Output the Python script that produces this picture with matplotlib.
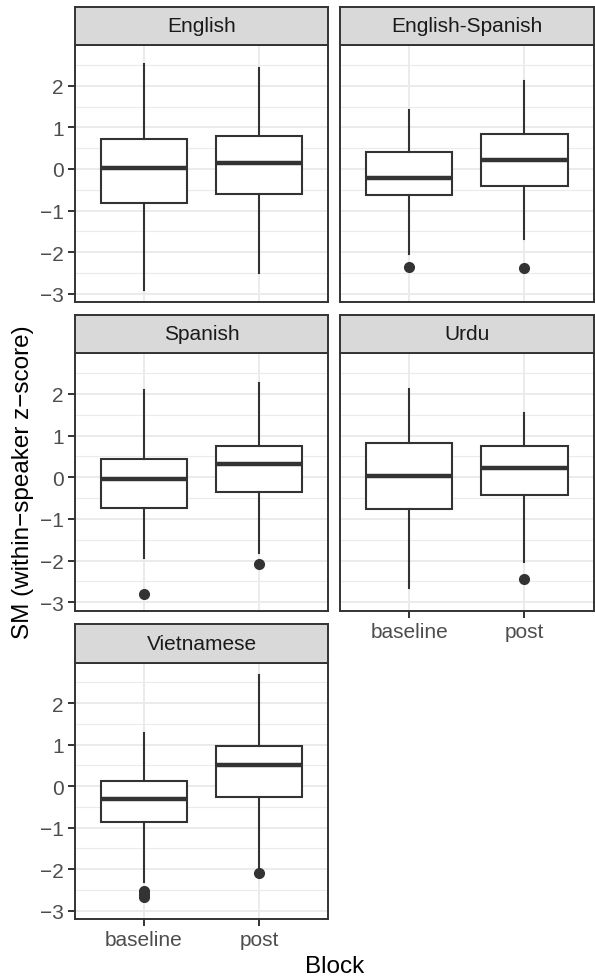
import matplotlib
matplotlib.use("Agg")
import matplotlib.pyplot as plt

plt.rcParams['font.family'] = ['Liberation Sans', 'DejaVu Sans']

blocks = ["baseline", "post"]
languages = ["English", "English-Spanish", "Spanish", "Urdu", "Vietnamese"]

# box stats per language: [baseline, post]
whislo = {"English": [-2.92, -2.50], "English-Spanish": [-2.04, -1.69], "Spanish": [-1.93, -1.81],
          "Urdu": [-2.65, -2.04], "Vietnamese": [-2.32, -1.98]}
q1 = {"English": [-0.83, -0.61], "English-Spanish": [-0.63, -0.41], "Spanish": [-0.73, -0.36],
      "Urdu": [-0.77, -0.43], "Vietnamese": [-0.87, -0.26]}
med = {"English": [0.03, 0.14], "English-Spanish": [-0.21, 0.21], "Spanish": [-0.04, 0.31],
       "Urdu": [0.04, 0.22], "Vietnamese": [-0.30, 0.51]}
q3 = {"English": [0.72, 0.78], "English-Spanish": [0.40, 0.83], "Spanish": [0.43, 0.75],
      "Urdu": [0.82, 0.76], "Vietnamese": [0.13, 0.97]}
whishi = {"English": [2.52, 2.42], "English-Spanish": [1.41, 2.12], "Spanish": [2.09, 2.25],
          "Urdu": [2.11, 1.53], "Vietnamese": [1.27, 2.67]}
fliers = {"English": [[], []], "English-Spanish": [[-2.36], [-2.38]], "Spanish": [[-2.80], [-2.08]],
          "Urdu": [[], [-2.44]], "Vietnamese": [[-2.53, -2.59, -2.66], [-2.09]]}

W, H = 595, 979
fig = plt.figure(figsize=(W / 100, H / 100), dpi=100)

cols = [(75, 328), (340, 593.5)]
rows = [(46, 303), (354, 611.5), (663.5, 920)]
strip_h = 38.5
dark = "#333333"

for i, lang in enumerate(languages):
    r, c = divmod(i, 2)
    x0, x1 = cols[c]
    y0, y1 = rows[r]
    ax = fig.add_axes([x0 / W, 1 - y1 / H, (x1 - x0) / W, (y1 - y0) / H])

    stats = []
    for k in range(2):
        stats.append(dict(whislo=whislo[lang][k], q1=q1[lang][k], med=med[lang][k],
                          q3=q3[lang][k], whishi=whishi[lang][k], fliers=fliers[lang][k]))
    ax.bxp(stats, positions=[1, 2], widths=0.75, showcaps=False, patch_artist=True,
           boxprops=dict(facecolor="white", edgecolor=dark, linewidth=1.5),
           medianprops=dict(color=dark, linewidth=3.2, solid_capstyle="butt"),
           whiskerprops=dict(color=dark, linewidth=1.5),
           flierprops=dict(marker="o", markerfacecolor=dark, markeredgecolor=dark, markersize=7),
           zorder=3)

    ax.set_xlim(0.4, 2.6)
    ax.set_ylim(-3.2, 2.98)
    ax.set_yticks([-3, -2, -1, 0, 1, 2])
    ax.set_yticks([-2.5, -1.5, -0.5, 0.5, 1.5, 2.5], minor=True)
    ax.set_xticks([1, 2])
    ax.set_xticklabels(blocks)
    ax.set_yticklabels(["\u22123", "\u22122", "\u22121", "0", "1", "2"])
    ax.grid(which="major", color="#EBEBEB", linewidth=1.4, zorder=0)
    ax.grid(which="minor", axis="y", color="#EBEBEB", linewidth=0.8, zorder=0)
    ax.set_axisbelow(True)
    for s in ax.spines.values():
        s.set_color(dark)
        s.set_linewidth(1.4)
    ax.tick_params(which="major", length=5, width=1.4, color=dark, labelsize=15,
                   labelcolor="#4D4D4D", pad=3)
    ax.tick_params(which="minor", length=0)

    bottom = (lang in ["Urdu", "Vietnamese"])
    if not bottom:
        ax.tick_params(axis="x", length=0, labelbottom=False)
    if c == 1:
        ax.tick_params(axis="y", length=0, labelleft=False)

    # strip
    sx = fig.add_axes([x0 / W, 1 - y0 / H, (x1 - x0) / W, strip_h / H])
    sx.set_xticks([])
    sx.set_yticks([])
    sx.set_facecolor("#D9D9D9")
    for s in sx.spines.values():
        s.set_color(dark)
        s.set_linewidth(1.4)
    sx.text(0.5, 0.5, lang, ha="center", va="center", fontsize=15, color="#1A1A1A",
            transform=sx.transAxes)

fig.text(23 / W, 1 - 482 / H, "SM (within\u2212speaker z\u2212score)", rotation=90,
         ha="center", va="center", fontsize=17.5, color="black")
fig.text(335 / W, 1 - 967 / H, "Block", ha="center", va="center", fontsize=17.5, color="black")

fig.savefig("out.png", dpi=100, facecolor="white")
